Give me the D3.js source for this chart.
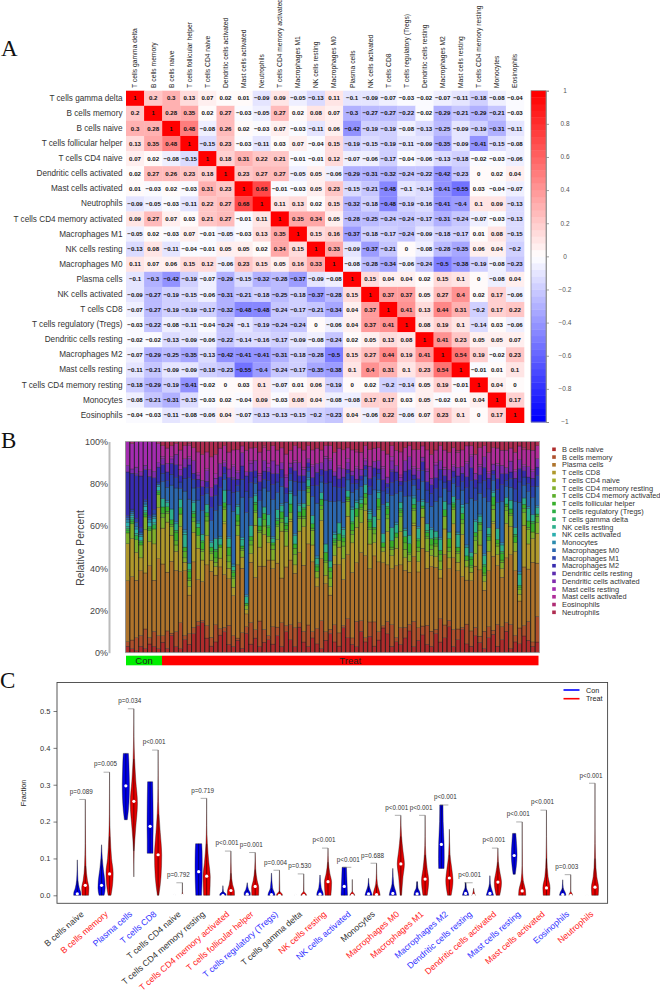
<!DOCTYPE html>
<html><head><meta charset="utf-8">
<script src="https://cdn.jsdelivr.net/npm/d3@7"></script>
<style>
html,body{margin:0;padding:0;background:#fff;overflow:hidden}
svg{display:block}
text{font-family:"Liberation Sans",Arial,sans-serif}
</style></head><body>
<script>
// ---------- Panel A data ----------
const corrLabels=["T cells gamma delta","B cells memory","B cells naive","T cells follicular helper","T cells CD4 naive","Dendritic cells activated","Mast cells activated","Neutrophils","T cells CD4 memory activated","Macrophages M1","NK cells resting","Macrophages M0","Plasma cells","NK cells activated","T cells CD8","T cells regulatory (Tregs)","Dendritic cells resting","Macrophages M2","Mast cells resting","T cells CD4 memory resting","Monocytes","Eosinophils"];
const corrRows=[
[1,.2,.3,.13,.07,.02,.01,-.09,.09,-.05,-.13,.11,-.1,-.09,-.07,-.03,-.02,-.07,-.11,-.18,-.08,-.04],
[.2,1,.28,.35,.02,.27,-.03,-.05,.27,.02,.08,.07,-.3,-.27,-.27,-.22,-.02,-.29,-.21,-.29,-.21,-.03],
[.3,.28,1,.48,-.08,.26,.02,-.03,.07,-.03,-.11,.06,-.42,-.19,-.19,-.08,-.13,-.25,-.09,-.19,-.31,-.11],
[.13,.35,.48,1,-.15,.23,-.03,-.11,.03,.07,-.04,.15,-.19,-.15,-.19,-.11,-.09,-.35,-.09,-.41,-.15,-.08],
[.07,.02,-.08,-.15,1,.18,.31,.22,.21,-.01,-.01,.12,-.07,-.06,-.17,-.04,-.06,-.13,-.18,-.02,-.03,-.06],
[.02,.27,.26,.23,.18,1,.23,.27,.27,-.05,.05,-.06,-.29,-.31,-.32,-.24,-.22,-.42,-.23,0,.02,.04],
[.01,-.03,.02,-.03,.31,.23,1,.68,-.01,-.03,.05,.23,-.15,-.21,-.48,-.1,-.14,-.41,-.55,.03,-.04,-.07],
[-.09,-.05,-.03,-.11,.22,.27,.68,1,.11,.13,.02,.15,-.32,-.18,-.48,-.19,-.16,-.41,-.4,.1,.09,-.13],
[.09,.27,.07,.03,.21,.27,-.01,.11,1,.35,.34,.05,-.28,-.25,-.24,-.24,-.17,-.31,-.24,-.07,-.03,-.13],
[-.05,.02,-.03,.07,-.01,-.05,-.03,.13,.35,1,.15,.16,-.37,-.18,-.17,-.24,-.09,-.18,-.17,.01,.08,-.15],
[-.13,.08,-.11,-.04,-.01,.05,.05,.02,.34,.15,1,.33,-.09,-.37,-.21,0,-.08,-.28,-.35,.06,.04,-.2],
[.11,.07,.06,.15,.12,-.06,.23,.15,.05,.16,.33,1,-.08,-.28,-.34,-.06,-.24,-.5,-.38,-.19,-.08,-.23],
[-.1,-.3,-.42,-.19,-.07,-.29,-.15,-.32,-.28,-.37,-.09,-.08,1,.15,.04,.04,.02,.15,.1,0,-.08,.04],
[-.09,-.27,-.19,-.15,-.06,-.31,-.21,-.18,-.25,-.18,-.37,-.28,.15,1,.37,.37,.05,.27,.4,.02,.17,-.06],
[-.07,-.27,-.19,-.19,-.17,-.32,-.48,-.48,-.24,-.17,-.21,-.34,.04,.37,1,.41,.13,.44,.31,-.2,.17,.22],
[-.03,-.22,-.08,-.11,-.04,-.24,-.1,-.19,-.24,-.24,0,-.06,.04,.37,.41,1,.08,.19,.1,-.14,.03,-.06],
[-.02,-.02,-.13,-.09,-.06,-.22,-.14,-.16,-.17,-.09,-.08,-.24,.02,.05,.13,.08,1,.41,.23,.05,.05,.07],
[-.07,-.29,-.25,-.35,-.13,-.42,-.41,-.41,-.31,-.18,-.28,-.5,.15,.27,.44,.19,.41,1,.54,.19,-.02,.23],
[-.11,-.21,-.09,-.09,-.18,-.23,-.55,-.4,-.24,-.17,-.35,-.38,.1,.4,.31,.1,.23,.54,1,-.01,.01,.1],
[-.18,-.29,-.19,-.41,-.02,0,.03,.1,-.07,.01,.06,-.19,0,.02,-.2,-.14,.05,.19,-.01,1,.04,0],
[-.08,-.21,-.31,-.15,-.03,.02,-.04,.09,-.03,.08,.04,-.08,-.08,.17,.17,.03,.05,-.02,.01,.04,1,.17],
[-.04,-.03,-.11,-.08,-.06,.04,-.07,-.13,-.13,-.15,-.2,-.23,.04,-.06,.22,-.06,.07,.23,.1,0,.17,1]];
const corrTicks=[1,.8,.6,.4,.2,0,-.2,-.4,-.6,-.8,-1];

// ---------- Panel B data (percent per sample, sample 1-8 = Con, 9-94 = Treat) ----------
const cellTypes=["B cells naive","B cells memory","Plasma cells","T cells CD8","T cells CD4 naive","T cells CD4 memory resting","T cells CD4 memory activated","T cells follicular helper","T cells regulatory (Tregs)","T cells gamma delta","NK cells resting","NK cells activated","Monocytes","Macrophages M0","Macrophages M1","Macrophages M2","Dendritic cells resting","Dendritic cells activated","Mast cells resting","Mast cells activated","Eosinophils","Neutrophils"];
const groupNames=["Con","Treat"];
const groupCounts=[8,86];
const bNaive=[3,2,1,3,2,4,3,2,5,2, 8,3,2,6,4,9,13,14,7,3, 5,8,10,4,3,6,2,9,4,7, 3,5,6,4,8,3,10,6,3,12, 5,3,7,4,2,6,9,5,3,12, 7,4,3,10,5,8,3,6,11,9, 3,5,4,7,10,3,6,8,4,3, 9,5,7,12,3,6,11,4,3,8, 5,2,7,9,3,6,10,2,5,4, 8,6,3,5];
const bMemory=[2,4,6,5,9,3,7,6,3,8, 1,7,12,2,5,3,2,1,6,4, 8,3,2,9,5,1,7,3,10,4, 12,6,2,8,4,11,3,7,9,2, 5,10,3,7,13,4,2,8,6,1, 9,3,12,5,2,7,11,4,1,6, 10,2,8,5,3,12,6,4,9,7, 2,11,6,3,8,5,1,9,7,4, 3,8,5,2,10,6,4,11,3,7, 5,9,2,12];
const plasmaCells=[28,30,27,30,26,33,24,36,34,27, 33,29,24,30,18,31,20,18,29,30, 23,28,25,22,19,35,29,6,28,25, 26,30,35,27,30,21,28,30,26,33, 31,38,33,19,29,23,16,28,31,22, 30,31,28,32,38,26,30,33,28,27, 26,33,30,27,24,31,27,35,27,30, 29,19,33,24,34,27,24,20,23,29, 32,19,26,36,27,23,30,32,30,12, 28,25,37,25];
const tCD8=[17,18,13,6,20,11,17,24,17,23, 12,9,21,4,4,14,15,10,14,5, 4,4,24,5,4,14,5,2,4,25, 9,15,8,4,11,22,10,18,4,10, 18,18,8,4,18,4,4,4,8,10, 18,14,17,14,21,12,6,20,5,16, 6,8,16,6,5,15,5,14,8,5, 5,4,12,5,16,4,20,6,4,6, 12,4,9,16,5,4,16,13,9,3, 20,12,11,14];
const tCD4Naive=[0,0,0,0,0,0,0,0,0,0, 0,0,0,0,0,0,0,0,0,0, 0,0,1,0,0,0,0,0,0,0, 0,0,0,0,0,0,0,1,0,0, 0,0,0,0,0,0,0,0,0,0, 0,0,0,0,0,0,0,0,0,0, 0,0,0,0,0,1,0,0,0,0, 0,0,0,0,0,0,0,0,0,0, 0,0,0,1,0,0,0,0,0,0, 0,0,0,0];
const tCD4MemRest=[5,7,6,6,6,5,7,6,5,4, 4,3,6,2,3,5,6,4,7,3, 2,5,6,3,4,5,3,2,4,6, 7,4,3,5,6,4,7,3,5,6, 4,6,7,3,5,6,4,5,3,6, 7,4,5,6,3,7,4,5,2,6, 3,5,7,4,3,6,5,4,6,3, 5,4,6,3,7,4,5,3,2,6, 7,3,5,6,4,3,6,5,4,2, 6,7,3,5];
const tCD4MemAct=[0,0,0,0,0,0,0,0,2,1, 1,2,0,3,1,2,0,1,2,1, 2,0,1,3,1,2,1,0,2,1, 1,3,0,2,1,2,1,0,3,1, 1,2,1,0,2,1,3,1,0,2, 1,2,0,1,3,1,2,1,0,2, 1,0,2,3,1,1,2,0,1,2, 1,3,0,2,1,1,2,0,1,2, 3,1,0,2,1,1,2,1,0,1, 2,1,0,3];
const tFollicular=[1,1,0,1,1,1,0,1,3,2, 2,4,3,2,3,2,4,3,2,2, 3,1,2,4,2,3,1,1,2,3, 2,3,4,1,2,3,2,4,2,2, 3,1,2,2,3,4,2,1,3,2, 1,3,4,2,2,3,1,4,2,3, 3,2,1,3,4,2,3,1,2,3, 2,2,3,4,1,2,3,2,3,2, 1,3,2,4,2,3,1,2,3,1, 2,3,4,1];
const tRegs=[1,1,2,1,1,1,2,1,0,0, 0,1,0,0,1,0,0,1,0,0, 1,0,0,0,1,0,0,0,0,1, 0,0,1,0,0,0,1,0,0,0, 1,0,0,1,0,0,0,1,0,0, 0,1,0,0,0,1,0,0,0,1, 0,0,1,0,0,0,1,0,0,0, 1,0,0,0,1,0,0,0,1,0, 0,1,0,0,0,1,0,0,1,0, 0,0,1,0];
const tGammaDelta=[0,0,0,0,0,0,0,0,0,0, 0,0,0,0,0,1,0,0,0,0, 0,0,0,0,0,0,0,0,0,0, 0,0,0,0,1,0,0,0,0,0, 0,0,0,0,0,0,0,0,0,1, 0,0,0,0,0,0,0,0,0,0, 0,0,0,0,0,0,0,0,1,0, 0,0,0,0,0,0,0,0,0,0, 0,0,1,0,0,0,0,0,0,0, 0,0,0,0];
const nkResting=[1,1,1,0,1,0,1,0,4,2, 5,3,4,6,3,4,2,3,4,2, 5,3,6,4,2,4,3,3,5,3, 4,3,5,2,4,3,3,5,4,3, 2,3,4,3,3,4,3,2,5,3, 3,6,3,2,4,3,5,3,4,2, 6,4,3,3,4,3,5,2,3,4, 3,5,4,3,3,6,3,4,2,5, 3,4,3,2,5,3,3,4,3,5, 3,6,3,3];
const nkActivated=[2,1,2,2,2,2,2,2,0,0, 0,0,0,1,0,0,0,0,0,0, 0,0,0,0,0,0,1,0,0,0, 0,0,0,0,0,0,0,0,0,0, 0,0,0,0,0,0,0,0,0,0, 0,0,0,0,0,1,0,0,0,0, 0,0,0,0,0,0,0,0,0,0, 0,0,0,0,0,0,1,0,0,0, 0,0,0,0,0,0,0,0,0,0, 0,0,0,0];
const monocytes=[1,1,1,1,1,1,1,1,0,1, 0,1,0,1,0,1,1,0,0,1, 0,1,0,1,1,1,0,1,0,1, 0,0,0,1,0,1,0,1,1,1, 0,1,0,1,0,0,0,1,0,1, 0,1,1,1,0,1,0,1,0,0, 0,1,0,1,0,1,1,1,0,1, 0,1,0,0,0,1,0,1,0,1, 1,1,0,1,0,1,0,0,0,1, 0,1,0,1];
const macrophagesM0=[1,1,2,1,1,1,1,0,8,6, 11,16,5,18,30,6,10,11,5,9, 13,14,5,15,25,6,18,38,13,5, 8,9,11,17,8,8,7,5,18,6, 6,3,9,24,5,21,28,14,10,12, 5,7,5,5,4,7,12,5,13,4, 15,13,5,15,18,5,12,8,10,10, 14,19,6,13,6,15,7,19,25,9, 10,26,12,5,12,19,5,6,12,31, 6,7,8,9];
const macrophagesM1=[1,1,2,2,1,1,2,1,4,3, 5,5,3,6,10,4,6,7,3,6, 7,8,3,7,9,3,8,10,7,3, 5,4,5,7,5,4,4,3,7,4, 4,2,5,8,3,8,9,7,6,7, 3,4,3,3,3,4,6,3,6,3, 6,6,3,7,7,3,6,5,6,6, 6,8,3,6,3,6,4,7,8,6, 5,8,6,3,6,8,3,4,6,9, 4,4,5,5];
const macrophagesM2=[20,17,20,24,14,18,15,7,4,4, 5,6,3,5,6,3,4,4,3,5, 5,5,3,6,6,3,6,7,5,3, 4,4,4,5,4,4,3,3,5,3, 3,2,4,6,3,6,6,5,4,5, 2,4,2,2,2,4,4,2,5,2, 5,4,2,5,5,2,5,4,4,4, 5,5,3,5,3,5,4,5,6,4, 4,6,5,2,5,5,3,3,5,6, 3,3,4,4];
const dcResting=[0,0,1,0,0,0,0,0,0,0, 0,0,0,0,0,0,0,0,0,0, 0,0,0,0,1,0,0,0,0,0, 0,0,0,0,0,0,0,0,0,0, 0,0,0,0,0,0,0,0,0,0, 0,0,0,0,0,0,0,0,0,0, 1,0,0,0,0,0,0,0,0,0, 0,0,0,0,0,0,0,0,0,0, 0,0,0,0,0,0,0,0,0,0, 0,0,0,0];
const dcActivated=[3,2,3,2,2,3,3,2,3,4, 2,5,3,4,3,6,2,3,5,4, 3,6,2,4,5,3,6,2,4,5, 3,5,2,6,4,3,5,2,4,6, 3,2,5,4,3,6,4,2,5,4, 3,2,5,3,2,6,3,4,5,3, 4,3,2,5,6,3,4,2,5,3, 6,4,3,5,2,4,3,6,5,3, 4,5,2,3,6,4,3,5,3,4, 2,5,3,4];
const mastResting=[11,12,12,14,11,13,14,9,1,0, 1,0,2,0,1,0,1,0,1,0, 2,0,1,0,1,1,0,0,1,0, 1,0,2,0,0,0,1,0,1,0, 1,0,1,0,0,1,1,0,1,0, 2,0,1,0,1,0,0,0,1,0, 2,0,1,0,0,1,1,0,1,0, 1,0,1,0,1,0,0,1,1,0, 1,0,1,0,1,0,0,0,1,0, 1,0,1,0];
const mastActivated=[0,0,0,0,0,0,0,0,5,7, 5,5,7,6,5,6,10,12,8,14, 9,7,7,8,7,10,3,10,6,6, 10,6,6,7,7,7,10,6,7,7, 8,6,7,7,6,5,6,9,8,9, 5,10,7,8,6,8,6,6,7,11, 5,7,11,6,5,8,9,5,9,11, 6,7,8,8,8,7,8,7,4,9, 8,5,9,8,7,7,8,6,8,6, 7,8,9,6];
const eosinophils=[0,1,0,0,0,0,0,1,0,0, 0,0,0,0,1,0,0,0,0,0, 0,0,0,0,0,0,0,0,0,0, 0,1,0,0,0,0,0,0,0,0, 0,0,0,0,0,0,0,0,0,0, 0,0,1,0,0,0,0,0,0,0, 0,0,0,0,0,0,0,0,0,0, 0,0,0,0,0,1,0,0,0,0, 0,0,0,0,0,0,0,0,0,0, 1,0,0,0];
const neutrophils=[0,0,0,0,0,0,0,0,2,3, 2,1,4,2,1,3,5,6,5,7, 6,3,2,5,4,4,2,4,3,3, 5,2,4,2,4,3,6,4,2,3, 4,2,4,3,4,2,2,5,3,4, 3,4,4,5,2,4,3,3,4,6, 2,4,5,3,2,4,4,2,4,6, 4,2,4,5,3,4,4,2,2,6, 3,2,5,3,3,4,4,3,5,2, 3,4,4,2];
const seriesValues=[bNaive,bMemory,plasmaCells,tCD8,tCD4Naive,tCD4MemRest,tCD4MemAct,tFollicular,tRegs,tGammaDelta,nkResting,nkActivated,monocytes,macrophagesM0,macrophagesM1,macrophagesM2,dcResting,dcActivated,mastResting,mastActivated,eosinophils,neutrophils];
const percentTicks=[0,.2,.4,.6,.8,1];

// ---------- Panel C data ----------
const pLabels=["p=0.089","p=0.005","p=0.034","p<0.001","p=0.792","p=0.719","p<0.001","p=0.001","p=0.004","p=0.530","p<0.001","p<0.001","p=0.688","p<0.001","p<0.001","p<0.001","p<0.001","p<0.001","p<0.001","p<0.001","p=0.003","p<0.001"];
const sigClass=[0,1,2,2,0,0,1,1,2,0,1,2,0,1,1,2,2,1,2,1,2,1]; // 0 n.s., 1 higher in Treat, 2 higher in Con
const conMedians=[.004,.027,.297,.187,0,.064,0,.003,.002,0,.003,.024,.004,.005,.004,.138,.005,.005,.108,0,.002,0];
const treatMedians=[.027,.058,.255,.11,0,.052,.013,.024,0,0,.037,0,.002,.085,.044,.047,0,.036,.012,.02,0,.022];
// profiles: [fraction, relative density]
const conProfiles=[
[[0,1],[.005,1],[.02,.55],[.04,.2],[.07,.07],[.096,.02]],
[[0,.7],[.02,1],[.04,.9],[.07,.5],[.1,.2],[.137,.02]],
[[.205,.4],[.23,.7],[.27,.95],[.3,1],[.34,.9],[.37,.8],[.385,.7]],
[[.114,.8],[.15,.8],[.19,.85],[.25,.8],[.308,.7]],
[[0,.3],[.002,.02]],
[[0,.8],[.04,.95],[.08,1],[.12,.95],[.14,.85]],
[[0,.9],[.004,.8],[.01,.15],[.026,.02]],
[[0,.85],[.006,.85],[.015,.4],[.034,.03]],
[[0,1],[.006,.85],[.02,.3],[.06,.03]],
[[0,.3],[.002,.02]],
[[0,.9],[.006,.85],[.02,.35],[.055,.03]],
[[0,.9],[.025,.8],[.05,.7],[.076,.6]],
[[0,1],[.01,.7],[.025,.2],[.046,.02]],
[[0,1],[.01,.8],[.03,.25],[.073,.02]],
[[0,.9],[.01,.7],[.02,.25],[.037,.1]],
[[.073,.75],[.1,.8],[.14,.75],[.2,.5],[.245,.45]],
[[0,.9],[.01,.6],[.02,.2],[.034,.1]],
[[0,1],[.01,.7],[.03,.15],[.053,.03]],
[[.057,.3],[.08,.6],[.11,.8],[.14,.65],[.168,.45]],
[[0,.2],[.002,.02]],
[[0,.9],[.006,.75],[.02,.15],[.042,.02]],
[[0,.2],[.002,.02]]];
const treatProfiles=[
[[0,.9],[.02,1],[.04,.6],[.08,.2],[.14,.07],[.26,.01]],
[[0,.4],[.03,.85],[.06,1],[.1,.55],[.16,.2],[.22,.06],[.334,.01]],
[[.05,.01],[.12,.1],[.18,.5],[.25,1],[.31,.55],[.37,.2],[.43,.05],[.506,.01]],
[[0,.2],[.05,.8],[.11,1],[.17,.6],[.22,.25],[.29,.06],[.394,.01]],
[[0,.2],[.01,.02],[.034,.01]],
[[0,.85],[.05,1],[.09,.6],[.14,.2],[.19,.05],[.263,.01]],
[[0,1],[.012,.95],[.03,.45],[.06,.12],[.12,.01]],
[[0,.95],[.02,1],[.04,.55],[.07,.15],[.116,.01]],
[[0,.85],[.004,.7],[.012,.1],[.068,.01]],
[[0,.8],[.004,.6],[.012,.05],[.058,.01]],
[[0,.8],[.035,1],[.06,.5],[.09,.12],[.128,.01]],
[[0,.7],[.004,.5],[.012,.03],[.043,.01]],
[[0,1],[.01,.8],[.03,.25],[.06,.05],[.087,.01]],
[[0,.2],[.05,.6],[.085,1],[.12,.6],[.16,.2],[.217,.01]],
[[0,.6],[.04,1],[.07,.6],[.11,.2],[.16,.04],[.217,.01]],
[[0,.5],[.04,1],[.07,.7],[.11,.2],[.179,.01]],
[[0,.5],[.003,.3],[.019,.01]],
[[0,.5],[.035,1],[.06,.6],[.09,.15],[.128,.01]],
[[0,1],[.015,.9],[.04,.3],[.08,.06],[.199,.01]],
[[0,.9],[.02,1],[.05,.45],[.1,.12],[.16,.03],[.231,.01]],
[[0,.5],[.004,.4],[.012,.03],[.056,.01]],
[[0,.9],[.02,1],[.05,.5],[.1,.15],[.18,.03],[.304,.01]]];
const fractionTicks=[0,.1,.2,.3,.4,.5];

// ---------- Drawing ----------
const svg=d3.select("body").append("svg").attr("width",660).attr("height",992);
[["A",1,56],["B",1,448],["C",0,688]].forEach(([t,x,y])=>svg.append("text").text(t).attr("x",x).attr("y",y)
  .style("font-family","'Liberation Serif',serif").style("font-size","23px").attr("fill","#111"));
const minus=s=>String(s).replace("-","\u2212");

// Panel A
const cx=d3.scaleBand().domain(d3.range(22)).range([126,524]);
const cy=d3.scaleBand().domain(d3.range(22)).range([90.7,422.7]);
const ramp=d3.scaleLinear().domain([0,.5,1]).range(["#0000ff","#ffffff","#ff0000"]);
const palette=d3.quantize(ramp,50);
const corrColor=d3.scaleQuantize().domain([-1,1]).range(palette);
const gA=svg.append("g");
corrRows.forEach((row,r)=>{
  gA.selectAll(null).data(row).join("rect").attr("x",(d,c)=>cx(c)).attr("y",cy(r))
    .attr("width",cx.bandwidth()+.3).attr("height",cy.bandwidth()+.3).attr("fill",d=>corrColor(d));
  gA.selectAll(null).data(row).join("text").attr("x",(d,c)=>cx(c)+cx.bandwidth()/2).attr("y",cy(r)+cy.bandwidth()/2+2.1)
    .attr("text-anchor","middle").style("font-size","6.1px").style("font-weight","bold").attr("fill","#111")
    .text(d=>minus(d));
});
gA.selectAll(null).data(corrLabels).join("text").attr("x",122.5).attr("y",(d,i)=>cy(i)+cy.bandwidth()/2+2.6)
  .attr("text-anchor","end").style("font-size","8.2px").attr("fill","#333").text(d=>d);
gA.selectAll(null).data(corrLabels).join("text")
  .attr("transform",(d,i)=>`translate(${cx(i)+cx.bandwidth()/2+2.4},88) rotate(-90)`)
  .style("font-size","6.7px").attr("fill","#222").text(d=>d);
// colour bar
const barY=d3.scaleLinear().domain([-1,1]).range([422,90.7]);
gA.selectAll(null).data(palette).join("rect").attr("x",531).attr("width",15)
  .attr("y",(d,i)=>barY(-1+(i+1)*2/50)).attr("height",(422-90.7)/50+.4).attr("fill",d=>d);
gA.append("g").attr("transform","translate(546,0)").call(d3.axisRight(barY).tickValues(corrTicks).tickSize(3).tickFormat(()=>""))
  .call(g=>g.selectAll("path,line").attr("stroke","#888").attr("stroke-width",.8));
gA.append("rect").attr("x",531).attr("y",90.7).attr("width",15).attr("height",331.3).attr("fill","none").attr("stroke","#888").attr("stroke-width",.7);
gA.selectAll(null).data(corrTicks).join("text").attr("x",565).attr("y",d=>barY(d)+2.3).attr("text-anchor","middle")
  .style("font-size","6.5px").attr("fill","#555").text(d=>minus(d));

// Panel B
const nSamples=bNaive.length;
const samples=d3.range(nSamples).map(i=>{const o={};cellTypes.forEach((c,k)=>o[c]=seriesValues[k][i]);return o;});
const stacked=d3.stack().keys(cellTypes).offset(d3.stackOffsetExpand)(samples);
const bx=d3.scaleBand().domain(d3.range(nSamples)).range([125.5,539.5]);
const by=d3.scaleLinear().domain([0,1]).range([652.7,441.5]);
const hue=d3.scaleLinear().domain([0,22]).range([0,360]);
const cellColor=i=>d3.hsl(hue(i),.6,.43).formatHex();
const gB=svg.append("g");
stacked.forEach((s,k)=>{
  gB.selectAll(null).data(s).join("rect").attr("x",(d,i)=>bx(i)).attr("width",bx.bandwidth())
    .attr("y",d=>by(d[1])).attr("height",d=>Math.max(0,by(d[0])-by(d[1]))).attr("fill",cellColor(k))
    .attr("stroke","#222").attr("stroke-width",.3);
});
gB.selectAll(null).data(d3.range(nSamples)).join("line").attr("x1",d=>bx(d)).attr("x2",d=>bx(d)).attr("y1",441.5).attr("y2",652.7)
  .attr("stroke","#111").attr("stroke-width",.75);
gB.append("rect").attr("x",125.5).attr("y",441.5).attr("width",414).attr("height",211.2).attr("fill","none").attr("stroke","#aaa").attr("stroke-width",.8);
const axB=gB.append("g").attr("transform","translate(109,0)").call(d3.axisLeft(by).tickValues(percentTicks).tickSize(0).tickPadding(1).tickFormat(d3.format(".0%")));
axB.select("path").attr("stroke","#bbb").attr("stroke-width",2);
axB.selectAll("text").style("font-size","9px").attr("fill","#444");
gB.append("text").attr("transform","translate(84,548) rotate(-90)").attr("text-anchor","middle").style("font-size","10.3px").attr("fill","#444").text("Relative Percent");
[[groupNames[0],126,162,"#00ee00"],[groupNames[1],162,538.5,"#ff0000"]].forEach(([t,a,b,f])=>{
  gB.append("rect").attr("x",a).attr("y",655.7).attr("width",b-a).attr("height",9.6).attr("fill",f);
  gB.append("text").attr("x",(a+b)/2).attr("y",664).attr("text-anchor","middle").style("font-size","9.5px").attr("fill","#222").text(t);
});
const lg=d3.scalePoint().domain(cellTypes).range([449.3,612.3]);
gB.selectAll(null).data(cellTypes).join("rect").attr("x",552.2).attr("y",d=>lg(d)-1.8).attr("width",3.6).attr("height",3.6).attr("fill",(d,i)=>cellColor(i));
gB.selectAll(null).data(cellTypes).join("text").attr("x",562).attr("y",d=>lg(d)+2.6).style("font-size","7.4px").attr("fill","#333").text(d=>d);

// Panel C
const vx=d3.scaleLinear().domain([0,21]).range([81.3,591]);
const vy=d3.scaleLinear().domain([0,.5]).range([895.3,711]);
const w=d3.scaleLinear().domain([0,1]).range([0,3.6]);
const gC=svg.append("g");
gC.append("rect").attr("x",57).attr("y",682.5).attr("width",550.6).attr("height",220.8).attr("fill","none").attr("stroke","#444").attr("stroke-width",.9);
const axC=gC.append("g").attr("transform","translate(57,0)").call(d3.axisLeft(vy).tickValues(fractionTicks).tickSize(3.5).tickPadding(3).tickFormat(d3.format(".1f")));
axC.select("path").remove();
axC.selectAll("line").attr("stroke","#444").attr("stroke-width",.7);
axC.selectAll("text").style("font-size","7.5px").attr("fill","#333");
gC.append("text").attr("transform","translate(26,793) rotate(-90)").attr("text-anchor","middle").style("font-size","7.4px").attr("fill","#222").text("Fraction");
const labelColors=["#333","#ff2020","#3030ff"];
function violin(prof,med,c,fill){
  const area=d3.area().y(d=>vy(d[0])).x0(d=>c-w(d[1])).x1(d=>c+w(d[1])).curve(d3.curveMonotoneY);
  gC.append("path").attr("d",area(prof)).attr("fill",fill).attr("stroke","#000").attr("stroke-width",.35);
  const core=prof.filter(d=>d[1]>=.1);
  if(core.length>1) gC.append("line").attr("x1",c).attr("x2",c).attr("y1",vy(core[0][0])).attr("y2",vy(core[core.length-1][0])).attr("stroke","#000").attr("stroke-width",.5);
  gC.append("circle").attr("cx",c).attr("cy",vy(med)).attr("r",1.6).attr("fill","#fff");
}
cellTypes.forEach((name,i)=>{
  const g=vx(i),c0=g-4,c1=g+4;
  violin(conProfiles[i],conMedians[i],c0,"#0000e6");
  violin(treatProfiles[i],treatMedians[i],c1,"#e60000");
  const top0=d3.max(conProfiles[i],d=>d[0]),top1=d3.max(treatProfiles[i],d=>d[0]),top=Math.max(top0,top1);
  const xa=top0>top1?c0-1.5:g-2, xb=top0>top1?c1-1:c1;
  gC.append("line").attr("x1",xa).attr("x2",xb).attr("y1",vy(top)).attr("y2",vy(top)).attr("stroke","#777").attr("stroke-width",.6);
  gC.append("text").attr("x",g).attr("y",vy(top)-5.7).attr("text-anchor","middle").style("font-size","6.3px").attr("fill","#333").text(pLabels[i]);
  gC.append("text").attr("transform",`translate(${c1-1},915) rotate(-41)`).attr("text-anchor","end").style("font-size","8.7px").attr("fill",labelColors[sigClass[i]]).text(name);
});
[[groupNames[0],"#0000ff",690],[groupNames[1],"#ff0000",698.7]].forEach(([t,col,y])=>{
  gC.append("line").attr("x1",563.5).attr("x2",579.5).attr("y1",y).attr("y2",y).attr("stroke",col).attr("stroke-width",1.6);
  gC.append("text").attr("x",586).attr("y",y+2.5).style("font-size","7.2px").attr("fill","#222").text(t);
});
</script>
</body></html>
